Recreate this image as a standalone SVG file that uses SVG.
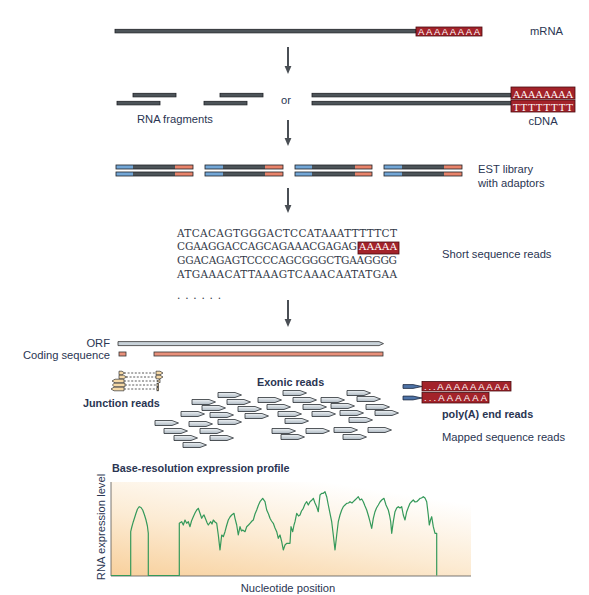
<svg xmlns="http://www.w3.org/2000/svg" xmlns:xlink="http://www.w3.org/1999/xlink" width="589" height="595" viewBox="0 0 589 595">
<style>
.bar{fill:#4d5459;stroke:#1e2226;stroke-width:0.8}
.pa{fill:#a3232a;stroke:#4a0c10;stroke-width:0.8}
.pat{fill:#fff;font-family:"Liberation Sans",Arial,sans-serif;font-size:9.5px}
.pas{fill:#fff;font-family:"DejaVu Serif","Liberation Serif",serif;font-size:10px}
.lbl{fill:#2a3552;font-family:"Liberation Sans",Arial,sans-serif;font-size:11.2px}
.bold{font-weight:bold;font-size:10.8px}
.seq{fill:#333a48;font-family:"DejaVu Serif","Liberation Serif",serif;font-size:10.5px}
.arr{stroke:#4a4f55;stroke-width:2;fill:none}
.arrh{fill:#4a4f55}
.blue{fill:#72a6d6}
.org{fill:#e8836a}
.dk{fill:#4d5459}
.out{fill:none;stroke:#1e2226;stroke-width:0.8}
.rd{fill:url(#rg);stroke:#2a2e33;stroke-width:0.8}
.jn{fill:#f6d9a6;stroke:#333;stroke-width:0.7}
.dash{stroke:#333;stroke-width:0.8;stroke-dasharray:2 1.6}
</style>
<defs>
<linearGradient id="rg" x1="0" y1="0" x2="0" y2="1">
<stop offset="0" stop-color="#eef2f5"/><stop offset="1" stop-color="#aeb9c2"/>
</linearGradient>
<linearGradient id="bg" x1="0" y1="1" x2="0.6" y2="0">
<stop offset="0" stop-color="#f8d09c"/><stop offset="0.5" stop-color="#fcebd3"/><stop offset="1" stop-color="#ffffff"/>
</linearGradient>
<path id="read" d="M0,-2.5 H17 L23.5,0 L17,2.5 H0 Z"/>
</defs>

<g id="connectors">
<line class="arr" x1="288" y1="47" x2="288" y2="67"/><polygon class="arrh" points="284.6,66 291.4,66 288,74"/>
<line class="arr" x1="288" y1="120" x2="288" y2="139"/><polygon class="arrh" points="284.6,138 291.4,138 288,146"/>
<line class="arr" x1="288" y1="188" x2="288" y2="206"/><polygon class="arrh" points="284.6,205 291.4,205 288,213"/>
<line class="arr" x1="288" y1="300" x2="288" y2="320"/><polygon class="arrh" points="284.6,319 291.4,319 288,327"/>
</g>

<g id="mrna">
<rect class="bar" x="115" y="29.3" width="301" height="3.6"/>
<rect class="pa" x="416" y="27" width="66" height="9"/>
<text class="pat" x="418" y="34.6" textLength="62">AAAAAAAA</text>
<text class="lbl" x="530" y="35">mRNA</text>
</g>

<g id="rna-fragments">
<rect class="bar" x="133" y="93.3" width="43" height="3.6"/>
<rect class="bar" x="117" y="101.3" width="43" height="3.6"/>
<rect class="bar" x="220" y="93.3" width="43" height="3.6"/>
<rect class="bar" x="204" y="101.3" width="43" height="3.6"/>
<text class="lbl" x="137" y="123">RNA fragments</text>
</g>
<text class="lbl" x="286" y="104" text-anchor="middle">or</text>

<g id="cdna">
<rect class="bar" x="312" y="93.3" width="199" height="3.6"/>
<rect class="bar" x="312" y="101.3" width="199" height="3.6"/>
<rect class="pa" x="511" y="87" width="64" height="12"/>
<rect class="pa" x="511" y="100" width="64" height="12"/>
<text class="pas" x="513" y="97.5" textLength="60">AAAAAAAA</text>
<text class="pas" x="513" y="110.5" textLength="60">TTTTTTTT</text>
<text class="lbl" x="543" y="125" text-anchor="middle">cDNA</text>
</g>

<g id="est-library">
<rect class="blue" x="116" y="165" width="17" height="4"/><rect class="dk" x="133" y="165" width="42" height="4"/><rect class="org" x="175" y="165" width="18" height="4"/><rect class="out" x="116" y="165" width="77" height="4"/>
<rect class="blue" x="116" y="172" width="17" height="4"/><rect class="dk" x="133" y="172" width="42" height="4"/><rect class="org" x="175" y="172" width="18" height="4"/><rect class="out" x="116" y="172" width="77" height="4"/>
<rect class="blue" x="205" y="165" width="18" height="4"/><rect class="dk" x="223" y="165" width="42" height="4"/><rect class="org" x="265" y="165" width="18" height="4"/><rect class="out" x="205" y="165" width="78" height="4"/>
<rect class="blue" x="205" y="172" width="18" height="4"/><rect class="dk" x="223" y="172" width="42" height="4"/><rect class="org" x="265" y="172" width="18" height="4"/><rect class="out" x="205" y="172" width="78" height="4"/>
<rect class="blue" x="295" y="165" width="17" height="4"/><rect class="dk" x="312" y="165" width="43" height="4"/><rect class="org" x="355" y="165" width="17" height="4"/><rect class="out" x="295" y="165" width="77" height="4"/>
<rect class="blue" x="295" y="172" width="17" height="4"/><rect class="dk" x="312" y="172" width="43" height="4"/><rect class="org" x="355" y="172" width="17" height="4"/><rect class="out" x="295" y="172" width="77" height="4"/>
<rect class="blue" x="384" y="165" width="18" height="4"/><rect class="dk" x="402" y="165" width="42" height="4"/><rect class="org" x="444" y="165" width="18" height="4"/><rect class="out" x="384" y="165" width="78" height="4"/>
<rect class="blue" x="384" y="172" width="18" height="4"/><rect class="dk" x="402" y="172" width="42" height="4"/><rect class="org" x="444" y="172" width="18" height="4"/><rect class="out" x="384" y="172" width="78" height="4"/>
<text class="lbl" x="478" y="173">EST library</text>
<text class="lbl" x="478" y="187">with adaptors</text>
</g>

<g id="short-reads">
<text class="seq" x="177" y="236.5" textLength="220">ATCACAGTGGGACTCCATAAATTTTTCT</text>
<text class="seq" x="177" y="250" textLength="180">CGAAGGACCAGCAGAAACGAGAG</text>
<rect class="pa" x="358" y="242" width="41" height="12"/>
<text class="pas" x="359" y="250" font-size="10.5" textLength="38">AAAAA</text>
<text class="seq" x="177" y="264" textLength="220">GGACAGAGTCCCCAGCGGGCTGAAGGGG</text>
<text class="seq" x="177" y="277.5" textLength="220">ATGAAACATTAAAGTCAAACAATATGAA</text>
<text class="seq" x="177" y="299" textLength="44">......</text>
<text class="lbl" x="442" y="258">Short sequence reads</text>
</g>

<g id="orf">
<polygon points="118,341.6 379,341.6 383.5,343.6 379,345.6 118,345.6" fill="#c9d3da" stroke="#333" stroke-width="0.8"/>
<text class="lbl" x="110" y="346.5" text-anchor="end">ORF</text>
</g>
<g id="coding-sequence">
<rect x="119" y="352" width="7" height="4" fill="#e8907a" stroke="#333" stroke-width="0.8"/>
<rect x="154" y="352" width="229" height="4" fill="#e8907a" stroke="#333" stroke-width="0.8"/>
<text class="lbl" x="110" y="358.5" text-anchor="end">Coding sequence</text>
</g>

<g id="junction-reads">
<line class="dash" x1="124" y1="373" x2="156" y2="373"/>
<polygon class="jn" points="119,371.2 122,371.2 124.5,373 122,374.8 119,374.8"/>
<polygon class="jn" points="156,371.2 160,371.2 163,373 160,374.8 156,374.8"/>
<line class="dash" x1="126" y1="377" x2="156" y2="377"/>
<polygon class="jn" points="119,375.2 123.5,375.2 126.5,377 123.5,378.8 119,378.8"/>
<polygon class="jn" points="156,375.2 160,375.2 163,377 160,378.8 156,378.8"/>
<line class="dash" x1="124" y1="381" x2="158" y2="381"/>
<polygon class="jn" points="112,381 115,379.2 124,379.2 124,382.8 115,382.8"/>
<polygon class="jn" points="157,381 160,379.2 160,382.8"/>
<line class="dash" x1="125" y1="385" x2="157" y2="385"/>
<polygon class="jn" points="112.5,385 114,383.2 125,383.2 125,386.8 114,386.8"/>
<rect class="jn" x="157" y="383.2" width="1.6" height="3.6"/>
<line class="dash" x1="124" y1="389" x2="157" y2="389"/>
<polygon class="jn" points="111,389 114,387.2 124,387.2 124,390.8 114,390.8"/>
<rect class="jn" x="157" y="387.2" width="1.6" height="3.6"/>
<text class="lbl bold" x="83" y="407" font-size="10.6" fill="#1f3560">Junction reads</text>
</g>

<g id="exonic-reads">
<text class="lbl bold" x="257" y="386" fill="#1f3560">Exonic reads</text>
<use href="#read" class="rd" x="218" y="395"/>
<use href="#read" class="rd" x="192" y="402"/>
<use href="#read" class="rd" x="227" y="402"/>
<use href="#read" class="rd" x="202" y="408"/>
<use href="#read" class="rd" x="238" y="409"/>
<use href="#read" class="rd" x="181" y="414"/>
<use href="#read" class="rd" x="210" y="415"/>
<use href="#read" class="rd" x="218" y="422"/>
<use href="#read" class="rd" x="155" y="423"/>
<use href="#read" class="rd" x="189" y="424"/>
<use href="#read" class="rd" x="164" y="431"/>
<use href="#read" class="rd" x="200" y="431"/>
<use href="#read" class="rd" x="174" y="438"/>
<use href="#read" class="rd" x="210" y="438"/>
<use href="#read" class="rd" x="183" y="445"/>
<use href="#read" class="rd" x="245" y="416"/>
<use href="#read" class="rd" x="258" y="400"/>
<use href="#read" class="rd" x="283" y="393"/>
<use href="#read" class="rd" x="267" y="407"/>
<use href="#read" class="rd" x="278" y="414"/>
<use href="#read" class="rd" x="285" y="421"/>
<use href="#read" class="rd" x="272" y="431"/>
<use href="#read" class="rd" x="281" y="437"/>
<use href="#read" class="rd" x="293" y="400"/>
<use href="#read" class="rd" x="303" y="407"/>
<use href="#read" class="rd" x="312" y="414"/>
<use href="#read" class="rd" x="306" y="431"/>
<use href="#read" class="rd" x="321" y="400"/>
<use href="#read" class="rd" x="331" y="406"/>
<use href="#read" class="rd" x="340" y="413"/>
<use href="#read" class="rd" x="349" y="420"/>
<use href="#read" class="rd" x="334" y="430"/>
<use href="#read" class="rd" x="343" y="437"/>
<use href="#read" class="rd" x="347" y="393"/>
<use href="#read" class="rd" x="357" y="399"/>
<use href="#read" class="rd" x="366" y="407"/>
<use href="#read" class="rd" x="375" y="413"/>
<use href="#read" class="rd" x="368" y="430"/>
</g>

<g id="polya-reads">
<polygon points="403,384.6 413,384.6 422,386.5 413,388.4 403,388.4" fill="#4f74a8" stroke="#1e2a40" stroke-width="0.8"/>
<polygon points="403,396.1 413,396.1 422,398 413,399.9 403,399.9" fill="#4f74a8" stroke="#1e2a40" stroke-width="0.8"/>
<rect class="pa" x="422" y="381.5" width="89" height="9.5"/>
<rect class="pa" x="422" y="392.5" width="67" height="10.5"/>
<text class="pat" x="424" y="389.5" textLength="85">...AAAAAAAAA</text>
<text class="pat" x="424" y="401" textLength="63">...AAAAAA</text>
<text class="lbl bold" x="442" y="418" fill="#1a1a1a">poly(A) end reads</text>
<text class="lbl" x="442" y="441">Mapped sequence reads</text>
</g>

<g id="expression-profile">
<text class="lbl bold" x="112" y="472" fill="#1a1a1a">Base-resolution expression profile</text>
<rect x="111" y="482" width="360" height="94" fill="url(#bg)"/>
<line x1="111" y1="482" x2="111" y2="576" stroke="#555" stroke-width="0.8"/>
<line x1="111" y1="576" x2="471" y2="576" stroke="#555" stroke-width="0.8"/>
<polyline fill="none" stroke="#35995a" stroke-width="1.2" stroke-linejoin="round" points="111,575.5 130.7,575.5 130.7,531.7 131.8,527 133.3,521.7 134.5,518 136,513.3 137.5,509 139.3,506.7 141,507.5 142.7,510 144.5,515 146,520 147.4,526 148.3,533.3 148.3,575.5 179.3,575.5 179.3,523.3 181.7,521.7 183.3,525 185,520 186.7,523.3 188.3,521.7 190,526.7 191.5,521 193.3,516.7 195,513 196.7,510 198.3,508.3 200,513.3 201.7,518.3 203,516 204,515 206,520 207.2,523 208.3,525 210.7,521.7 212,524 213.3,520 215,522 216.7,523.3 218.3,535 220,550 221.7,535 223.3,536.7 225,531.7 226.5,526 228.3,520 230,517 231.7,515 234,513.3 235,518.3 236.7,525 238.3,535 240,526.7 241.5,531 242.7,530 245,531.7 246.7,526.7 248.5,525 250,523.3 252,521 253.3,520 255,514 256.7,510 258.5,505 260,501.7 262.7,498.3 265,501.7 266.7,510 268.5,514 270,518.3 271.5,521 273.3,523.3 275,528 276.7,531.7 278.3,538.3 280,535 281.7,541.7 283.3,550 285,545 286.7,543.3 290,543.3 291,526.7 292.7,531.7 294,525 295,521.7 296.7,513.3 298.5,516 300,515 301.5,511 303.3,508.3 305,504 306.7,501.7 308.3,505 310,501.7 312,500 313.3,498.3 315,503 316.7,506.7 318.3,511.7 320,495 321.7,493.3 323.3,493.3 325,491.7 326.7,496.7 328.3,505 330,513.3 331.7,521.7 333.3,535 335,550 336.7,535 338.3,521.7 340,515 341.7,510 343.3,506.7 345,505 346.7,503.3 348.5,503 350,501.7 352,503 353.3,501.7 355,500 356.7,498.3 358.3,496.7 360,500 361.7,499 363.3,501.7 365,506 366.7,510 368.5,516 370,521.7 371.7,528.3 373.3,518.3 375,511.7 376.5,508 378.3,505 380,502 381.7,500 384,498.3 386,505 388.3,510 389.5,515 390.7,521.7 391.7,533.3 393.3,521.7 395,511.7 396.7,508 398.3,506.7 400,508 401.7,506.7 403.3,515 405,520 406.7,511.7 408.5,507 410,503.3 411.7,501.5 413.3,500 415,502 416.7,501.7 418.5,500 420,498.3 421.5,498 423.3,496.7 425,498 426.7,501.7 428.3,515 429.3,525 430.5,520 431.7,516.7 433.3,526.7 435,533.3 436.7,533.3 436.7,575.5"/>
<text class="lbl" transform="translate(104.5,527) rotate(-90)" text-anchor="middle">RNA expression level</text>
<text class="lbl" x="288" y="592" text-anchor="middle">Nucleotide position</text>
</g>
</svg>
